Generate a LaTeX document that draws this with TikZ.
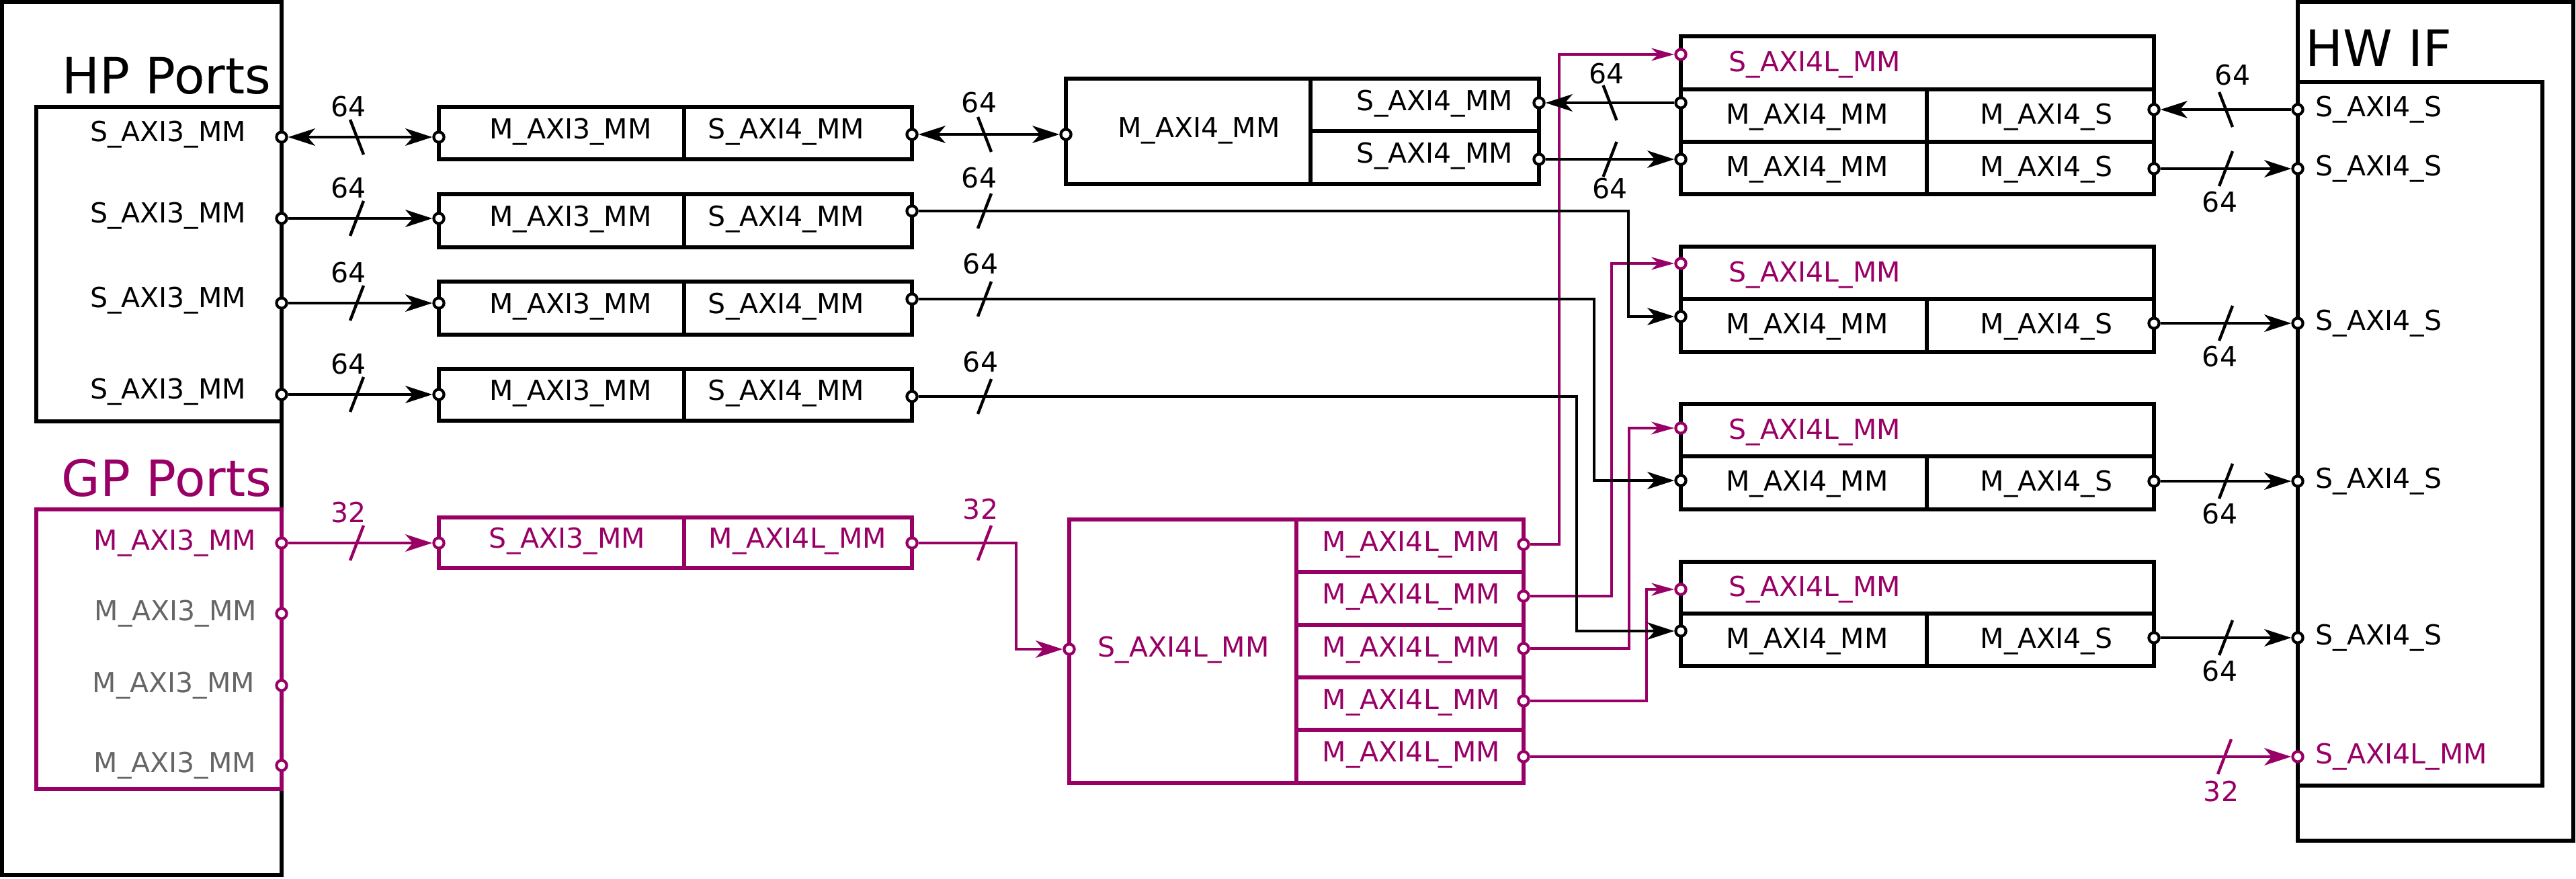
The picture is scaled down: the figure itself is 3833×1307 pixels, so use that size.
\documentclass[tikz,border=0pt]{standalone}
\usepackage{fontspec}
\setmainfont{DejaVu Sans}
\usetikzlibrary{arrows.meta,calc,fit}
\definecolor{mag}{RGB}{153,0,102}
\definecolor{gry}{RGB}{102,102,102}
\tikzset{
  lbl/.style={font=\fontsize{10.25pt}{12pt}\selectfont, inner sep=0pt},
  bigt/.style={font=\fontsize{18.6pt}{22pt}\selectfont, inner sep=0pt},
  outerbox/.style={draw, line width=1.4pt, inner sep=0pt, fit={#1}},
  cell/.style={draw, line width=1.3pt, inner sep=0pt, fit={#1}},
  port/.style={circle, draw, fill=white, line width=1.05pt, inner sep=0pt, minimum size=3.8pt},
  mport/.style={port, draw=mag},
  conn/.style={line width=1.15pt},
  mconn/.style={line width=1.2pt, draw=mag},
  mthin/.style={line width=1pt, draw=mag, -{Stealth[length=8.5pt,width=4.7pt,inset=2.5pt]}},
  busmk/.style={line width=1.1pt},
  >={Stealth[length=10pt,width=6.4pt,inset=2.75pt]},
}
\newcommand\busF[5]{%
  \coordinate (#1) at ($#2$);
  \draw[busmk,draw=#5] ($(#1)+(-10,26)$) -- ($(#1)+(10,-26)$);
  \node[lbl,anchor=base,text=#5] (#1t) at ($(#1)+#3$) {#4};}
\newcommand\busB[5]{%
  \coordinate (#1) at ($#2$);
  \draw[busmk,draw=#5] ($(#1)+(-10,-26)$) -- ($(#1)+(10,26)$);
  \node[lbl,anchor=base,text=#5] (#1t) at ($(#1)+#3$) {#4};}
\begin{document}
\begin{tikzpicture}[x=0.25pt,y=-0.25pt]
\useasboundingbox (0,0) rectangle (3833,1307);

% containers
\node[outerbox={(3,3) (419,1302)}] (hpouter) {};
\node[outerbox={(54,159) (419,627)}] (hpinner) {};
\node[outerbox={(54,758) (419,1174)}, draw=mag] (gpbox) {};
\node[outerbox={(3419,3) (3829,1251)}] (hwouter) {};
\node[outerbox={(3419,122) (3783,1169)}] (hwinner) {};
\node[bigt, anchor=base east] (hptitle) at (404,139) {HP Ports};
\node[bigt, anchor=base east, text=mag] (gptitle) at (405,738) {GP Ports};
\node[bigt, anchor=base west] (hwtitle) at (3430,98) {HW IF};

% HP labels
\foreach \ii/\ya in {1/204,2/325,3/451,4/587}
  \node[lbl, anchor=base east] (hpl\ii) at (367,\ya+6) {S\_AXI3\_MM};
% GP labels
\node[lbl, anchor=base east, text=mag] (gpl1) at (382,818) {M\_AXI3\_MM};
\node[lbl, anchor=base east, text=gry] (gpl2) at (383,923) {M\_AXI3\_MM};
\node[lbl, anchor=base east, text=gry] (gpl3) at (380,1030) {M\_AXI3\_MM};
\node[lbl, anchor=base east, text=gry] (gpl4) at (382,1149) {M\_AXI3\_MM};
% HW labels
\foreach \ii/\ya in {1/163,2/251,3/481,4/716,5/949}
  \node[lbl, anchor=base west] (hwl\ii) at (3445,\ya+10) {S\_AXI4\_S};
\node[lbl, anchor=base west, text=mag] (hwl6) at (3445,1136) {S\_AXI4L\_MM};

% column 1 converters
\foreach \ii/\ya/\yb in {1/159/237,2/289/368,3/419/498,4/549/626} {
  \node[cell={(653,\ya) (1018,\yb)}] (c\ii-l) {};
  \node[cell={(1018,\ya) (1357,\yb)}] (c\ii-r) {};
  \node[lbl, anchor=base] (c\ii-lt) at (849,{(\ya+\yb)/2+8}) {M\_AXI3\_MM};
  \node[lbl, anchor=base] (c\ii-rt) at (1170,{(\ya+\yb)/2+8}) {S\_AXI4\_MM};
}
% GP converter
\node[cell={(653,770) (1018,845)}, draw=mag] (g-l) {};
\node[cell={(1018,770) (1357,845)}, draw=mag] (g-r) {};
\node[lbl, anchor=base, text=mag] (g-lt) at (844,815) {S\_AXI3\_MM};
\node[lbl, anchor=base, text=mag] (g-rt) at (1187,815) {M\_AXI4L\_MM};

% big box
\node[cell={(1586,117) (1950,274)}] (bb-l) {};
\node[cell={(1950,117) (2290,195)}] (bb-u) {};
\node[cell={(1950,195) (2290,274)}] (bb-d) {};
\node[lbl, anchor=base] (bb-lt) at (1784,204) {M\_AXI4\_MM};
\node[lbl, anchor=base] (bb-ut) at (2135,164) {S\_AXI4\_MM};
\node[lbl, anchor=base] (bb-dt) at (2135,242) {S\_AXI4\_MM};

% crossbar
\node[cell={(1591,773) (1929,1165)}, draw=mag] (xb-l) {};
\node[lbl, anchor=base, text=mag] (xb-lt) at (1761,977) {S\_AXI4L\_MM};
\foreach \ii/\ya/\yb in {1/773/851,2/851/930,3/930/1008,4/1008/1086,5/1086/1165} {
  \node[cell={(1929,\ya) (2267,\yb)}, draw=mag] (xb-r\ii) {};
  \node[lbl, anchor=base, text=mag] (xb-rt\ii) at (2100,{(\ya+\yb)/2+8}) {M\_AXI4L\_MM};
}

% block 1
\node[cell={(2501,54) (3205,133)}] (k1-t) {};
\node[lbl, anchor=base west, text=mag] (k1-tt) at (2572,106) {S\_AXI4L\_MM};
\foreach \ii/\ya/\yb in {a/133/211,b/211/289} {
  \node[cell={(2501,\ya) (2867,\yb)}] (k1-\ii-l) {};
  \node[cell={(2867,\ya) (3205,\yb)}] (k1-\ii-r) {};
  \node[lbl, anchor=base] (k1-\ii-lt) at (2689,{(\ya+\yb)/2+12}) {M\_AXI4\_MM};
  \node[lbl, anchor=base] (k1-\ii-rt) at (3045,{(\ya+\yb)/2+12}) {M\_AXI4\_S};
}
% blocks 2-4
\foreach \bk/\ya/\yb/\yc in {2/367/445/524,3/601/679/758,4/836/913/991} {
  \node[cell={(2501,\ya) (3205,\yb)}] (k\bk-t) {};
  \node[lbl, anchor=base west, text=mag] (k\bk-tt) at (2572,{(\ya+\yb)/2+13}) {S\_AXI4L\_MM};
  \node[cell={(2501,\yb) (2867,\yc)}] (k\bk-l) {};
  \node[cell={(2867,\yb) (3205,\yc)}] (k\bk-r) {};
  \node[lbl, anchor=base] (k\bk-lt) at (2689,{(\yb+\yc)/2+12}) {M\_AXI4\_MM};
  \node[lbl, anchor=base] (k\bk-rt) at (3045,{(\yb+\yc)/2+12}) {M\_AXI4\_S};
}

% ports
\foreach \ii/\ya in {1/204,2/325,3/451,4/587} {
  \node[port] (hp\ii) at (419,\ya) {};
  \node[port] (al\ii) at (653,\ya) {};
}
\foreach \ii/\ya in {1/200,2/314,3/445,4/590}
  \node[port] (ar\ii) at (1357,\ya) {};
\foreach \ii/\ya in {1/808,2/913,3/1020,4/1139}
  \node[mport] (gp\ii) at (419,\ya) {};
\node[mport] (gl) at (653,808) {};
\node[mport] (gr) at (1357,808) {};
\node[port] (bl) at (1586,200) {};
\node[port] (br1) at (2290,153) {};
\node[port] (br2) at (2290,237) {};
\node[mport] (xl) at (1591,966) {};
\foreach \ii/\ya in {1/810,2/887,3/965,4/1043,5/1126}
  \node[mport] (xr\ii) at (2267,\ya) {};
\foreach \ii/\ya in {1/81,2/392,3/637,4/877}
  \node[mport] (ks\ii) at (2501,\ya) {};
\node[port] (k1m1) at (2501,153) {};
\node[port] (k1m2) at (2501,237) {};
\node[port] (k2m) at (2501,471) {};
\node[port] (k3m) at (2501,715) {};
\node[port] (k4m) at (2501,939) {};
\node[port] (k1o1) at (3205,163) {};
\node[port] (k1o2) at (3205,251) {};
\node[port] (k2o) at (3205,481) {};
\node[port] (k3o) at (3205,716) {};
\node[port] (k4o) at (3205,949) {};
\foreach \ii/\ya in {1/163,2/251,3/481,4/716,5/949}
  \node[port] (h\ii) at (3419,\ya) {};
\node[mport] (h6) at (3419,1126) {};

% routing columns
\coordinate (v2) at (2423,0);
\coordinate (v3) at (2372,0);
\coordinate (v4) at (2346,0);
\coordinate (vg) at (1512,0);
\coordinate (m1) at (2320,0);
\coordinate (m2) at (2398,0);
\coordinate (m3) at (2424,0);
\coordinate (m4) at (2450,0);

% magenta connectors
\draw[mconn,->] (gp1) -- (gl);
\draw[mconn,->] (gr) -- (gr -| vg) |- (xl);
\draw[mthin] (xr1) -- (xr1 -| m1) |- (ks1);
\draw[mthin] (xr2) -- (xr2 -| m2) |- (ks2);
\draw[mthin] (xr3) -- (xr3 -| m3) |- (ks3);
\draw[mthin] (xr4) -- (xr4 -| m4) |- (ks4);
\draw[mconn,->] (xr5) -- (h6);

% black connectors
\draw[conn,<->] (hp1) -- (al1);
\draw[conn,->] (hp2) -- (al2);
\draw[conn,->] (hp3) -- (al3);
\draw[conn,->] (hp4) -- (al4);
\draw[conn,<->] (ar1) -- (bl);
\draw[conn,->] (ar2) -- (ar2 -| v2) |- (k2m);
\draw[conn,->] (ar3) -- (ar3 -| v3) |- (k3m);
\draw[conn,->] (ar4) -- (ar4 -| v4) |- (k4m);
\draw[conn,->] (k1m1) -- (br1);
\draw[conn,->] (br2) -- (k1m2);
\draw[conn,->] (h1) -- (k1o1);
\draw[conn,->] (k1o2) -- (h2);
\draw[conn,->] (k2o) -- (h3);
\draw[conn,->] (k3o) -- (h4);
\draw[conn,->] (k4o) -- (h5);

% bus width marks
\busB{s1}{(hp1)+(112,0)}{(-12,-31)}{64}{black}
\busF{s2}{(hp2)+(112,0)}{(-12,-31)}{64}{black}
\busF{s3}{(hp3)+(112,0)}{(-12,-31)}{64}{black}
\busF{s4}{(hp4)+(112,0)}{(-12,-31)}{64}{black}
\busF{s5}{(gp1)+(112,0)}{(-12,-31)}{32}{mag}
\busB{s6}{(ar1)+(108,0)}{(-8,-33)}{64}{black}
\busF{s7}{(ar2)+(108,0)}{(-8,-35)}{64}{black}
\busF{s8}{(ar3)+(108,0)}{(-6,-38)}{64}{black}
\busF{s9}{(ar4)+(108,0)}{(-6,-37)}{64}{black}
\busF{s10}{(gr)+(108,0)}{(-6,-36)}{32}{mag}
\busB{s11}{(br1)!0.5!(k1m1)}{(-5,-29)}{64}{black}
\busF{s12}{(br2)!0.5!(k1m2)}{(0,58)}{64}{black}
\busB{s13}{(k1o1)!0.5!(h1)}{(10,-37)}{64}{black}
\busF{s14}{(k1o2)!0.5!(h2)}{(-9,64)}{64}{black}
\busF{s15}{(k2o)!0.5!(h3)}{(-9,64)}{64}{black}
\busF{s16}{(k3o)!0.5!(h4)}{(-9,63)}{64}{black}
\busF{s17}{(k4o)!0.5!(h5)}{(-9,64)}{64}{black}
\busF{s18}{(h6)+(-109,0)}{(-5,66)}{32}{mag}
\end{tikzpicture}
\end{document}
